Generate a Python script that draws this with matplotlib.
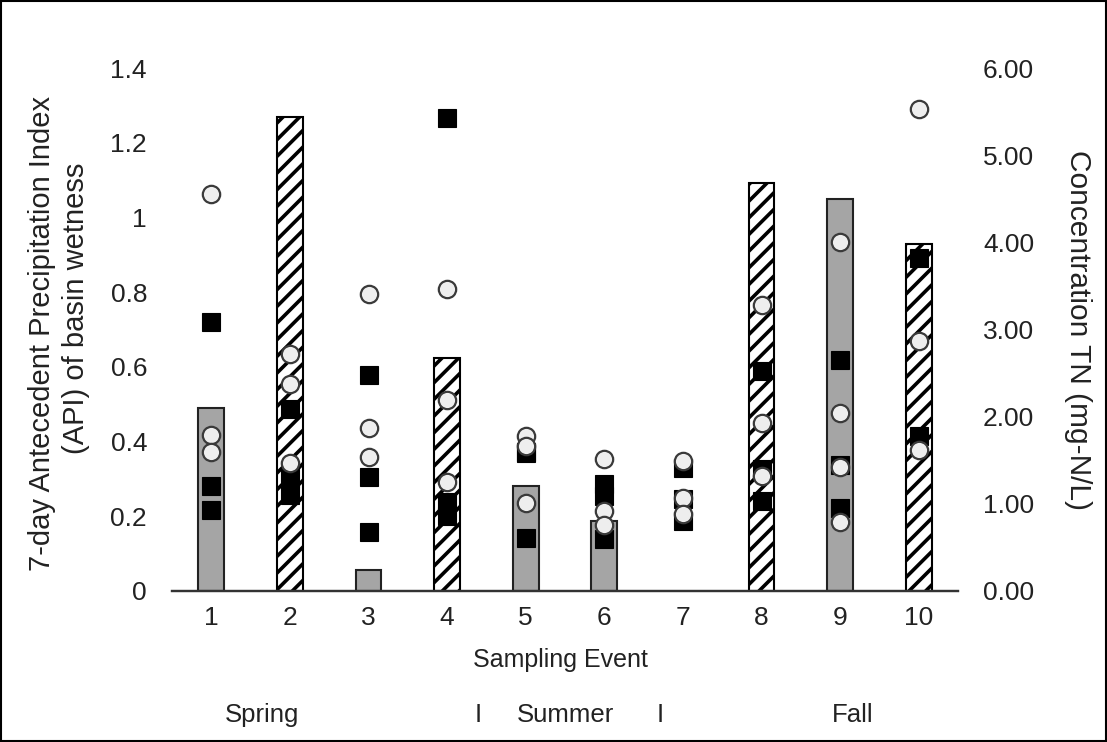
import matplotlib
matplotlib.use("Agg")
import matplotlib.pyplot as plt
from matplotlib.patches import Rectangle
import numpy as np

# ---- data ----
events = [1, 2, 3, 4, 5, 6, 7, 8, 9, 10]
api = [0.49, 1.27, 0.057, 0.625, 0.28, 0.188, 0.0, 1.093, 1.05, 0.93]
hatched = [False, True, False, True, False, False, False, True, False, True]

squares_tn = [
    [3.09, 1.20, 0.93],
    [2.09, 1.30, 1.10],
    [2.48, 1.31, 0.68],
    [5.43, 1.02, 0.86],
    [1.60, 1.58, 0.61],
    [1.23, 1.09, 0.60],
    [1.41, 1.05, 0.80],
    [2.52, 1.40, 1.03],
    [2.65, 1.45, 0.95],
    [3.82, 1.78],
]
circles_tn = [
    [4.55, 1.79, 1.60],
    [2.72, 2.37, 1.47],
    [3.41, 1.87, 1.54],
    [3.47, 2.19, 1.25],
    [1.78, 1.66, 1.01],
    [1.52, 0.92, 0.76],
    [1.49, 1.07, 0.88],
    [3.28, 1.93, 1.32],
    [4.00, 2.04, 1.42, 0.79],
    [5.53, 2.87, 1.62],
]

left_ticks = [0, 0.2, 0.4, 0.6, 0.8, 1, 1.2, 1.4]
left_ticklabels = ["0", "0.2", "0.4", "0.6", "0.8", "1", "1.2", "1.4"]
right_ticks = [0, 1, 2, 3, 4, 5, 6]
right_ticklabels = ["0.00", "1.00", "2.00", "3.00", "4.00", "5.00", "6.00"]

FONT = ["Liberation Sans", "DejaVu Sans"]
plt.rcParams["font.family"] = FONT
plt.rcParams["hatch.linewidth"] = 2.6
plt.rcParams["hatch.color"] = "black"

TXT = "#222222"
W, H = 1107, 742
fig = plt.figure(figsize=(W / 100, H / 100), dpi=100)
ax = fig.add_axes([172 / W, 1 - 591 / H, (958 - 172) / W, (591 - 68) / H])
ax2 = ax.twinx()

x = np.array(events)
for xi, v, h in zip(x, api, hatched):
    if v <= 0:
        continue
    if h:
        ax.bar(xi, v, width=0.33, color="white", edgecolor="black",
               linewidth=1.5, hatch="//", zorder=2)
    else:
        ax.bar(xi, v, width=0.33, color="#a5a5a5", edgecolor="#222222",
               linewidth=1.5, zorder=2)

ax.set_xlim(0.5, 10.5)
ax.set_ylim(0, 1.4)
ax2.set_ylim(0, 6.0)

for xi, vals in zip(x, squares_tn):
    ax2.plot([xi] * len(vals), vals, ls="none", marker="s", ms=12.5,
             mfc="black", mec="black", mew=0.8, zorder=3)
for xi, vals in zip(x, circles_tn):
    ax2.plot([xi] * len(vals), vals, ls="none", marker="o", ms=12.5,
             mfc="#eeeeee", mec="#3a3a3a", mew=1.6, zorder=4)

for a in (ax, ax2):
    for s in ("top", "left", "right"):
        a.spines[s].set_visible(False)
    a.spines["bottom"].set_linewidth(1.6)
    a.spines["bottom"].set_color("#333333")
    a.tick_params(length=0)

ax.set_xticks(x)
ax.set_xticklabels([str(e) for e in events], fontsize=19, color=TXT)
ax.tick_params(axis="x", pad=11)
ax.set_yticks(left_ticks)
ax.set_yticklabels(left_ticklabels, fontsize=19, color=TXT)
ax.tick_params(axis="y", pad=18)
ax2.set_yticks(right_ticks)
ax2.set_yticklabels(right_ticklabels, fontsize=19, color=TXT)
ax2.tick_params(axis="y", pad=18)

fig.text(42 / W, 1 - 333 / H, "7-day Antecedent Precipitation Index",
         rotation=90, ha="center", va="center", fontsize=21, color=TXT)
fig.text(76 / W, 1 - 308 / H, "(API) of basin wetness",
         rotation=90, ha="center", va="center", fontsize=21, color=TXT)
fig.text(1078 / W, 1 - 330 / H, "Concentration TN (mg-N/L)",
         rotation=270, ha="center", va="center", fontsize=21.5, color=TXT)

fig.text(560 / W, 1 - 660 / H, "Sampling Event", ha="center", va="center",
         fontsize=18, color=TXT)
fig.text(262 / W, 1 - 715 / H, "Spring", ha="center", va="center",
         fontsize=18.5, color=TXT)
fig.text(478 / W, 1 - 715 / H, "I", ha="center", va="center",
         fontsize=18.5, color=TXT)
fig.text(565 / W, 1 - 715 / H, "Summer", ha="center", va="center",
         fontsize=18.5, color=TXT)
fig.text(660 / W, 1 - 715 / H, "I", ha="center", va="center",
         fontsize=18.5, color=TXT)
fig.text(853 / W, 1 - 715 / H, "Fall", ha="center", va="center",
         fontsize=18.5, color=TXT)

fig.patches.append(Rectangle((0.001, 0.001), 0.998, 0.998, transform=fig.transFigure,
                             fill=False, edgecolor="black", linewidth=1.5))

fig.savefig("out.png", dpi=100)
